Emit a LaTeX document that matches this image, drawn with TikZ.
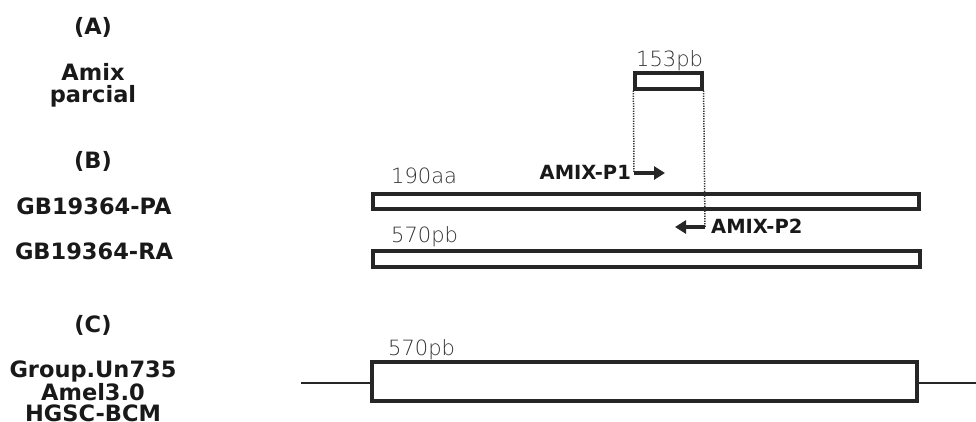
\documentclass[tikz,border=0pt]{standalone}
\usepackage{fontspec}
\setmainfont{DejaVu Sans}
\newfontfamily\lightfont{DejaVu Sans ExtraLight}
\usetikzlibrary{arrows.meta}
\begin{document}
\begin{tikzpicture}[x=1pt,y=-1pt,
  lab/.style={font=\fontsize{22.5}{21.5}\selectfont\bfseries, align=center, inner sep=0pt, text=black!90},
  size/.style={font=\fontsize{21}{21}\selectfont\lightfont, anchor=base west, inner sep=0pt, text=black!80},
  prim/.style={font=\fontsize{19.5}{19.5}\selectfont\bfseries, inner sep=0pt, text=black!90},
  bar/.style={draw=black!85, line width=3.2pt, fill=white},
  dots/.style={draw=black!80, line width=1.5pt, dash pattern=on 1.2pt off 1.3pt},
  parrow/.style={draw=black!85, line width=3.2pt, -{Triangle[length=11pt,width=13pt]}},
  flank/.style={draw=black!85, line width=2.8pt}]
\useasboundingbox (0,0) rectangle (976,421);
% left labels
\node[lab] (lA) at (93,27) {(A)};
\node[lab, anchor=base] (lAmix) at (93,102) {Amix\\parcial};
\node[lab] (lB) at (93,161) {(B)};
\node[lab] (lPA) at (94,206) {GB19364-PA};
\node[lab] (lRA) at (94,251) {GB19364-RA};
\node[lab] (lC) at (93,325) {(C)};
\node[lab, anchor=base] (lG) at (93,421.5) {Group.Un735\\Amel3.0\\HGSC-BCM};
% (A) small box
\node[bar, minimum width=67pt, minimum height=16pt, inner sep=0pt] (amix) at (668.5,81) {};
\node[size] (s153) at (636,66) {153pb};
% (B) bars
\node[bar, minimum width=546pt, minimum height=15pt, inner sep=0pt] (pa) at (646,201.5) {};
\node[bar, minimum width=547pt, minimum height=16pt, inner sep=0pt] (ra) at (646.5,259) {};
\node[size] (s190) at (391,183) {190aa};
\node[size] (s570a) at (391,242) {570pb};
% primers
\coordinate (p1s) at (634,173);
\coordinate (p1e) at (665,173);
\coordinate (p2s) at (705,227);
\coordinate (p2e) at (675,227);
\draw[dots] (amix.south west) -- (p1s);
\draw[dots] (amix.south east) -- (p2s);
\draw[parrow] (p1s) -- (p1e);
\draw[parrow] (p2s) -- (p2e);
\node[prim, anchor=east] (P1) at (631,172) {AMIX-P1};
\node[prim, anchor=west] (P2) at (711,226) {AMIX-P2};
% (C)
\node[bar, minimum width=545pt, minimum height=39pt, inner sep=0pt] (gc) at (644.5,381.5) {};
\coordinate (fl) at (301,383);
\coordinate (fr) at (976,383);
\draw[flank] (fl) -- (fl -| gc.west);
\draw[flank] (fr -| gc.east) -- (fr);
\node[size] (s570c) at (388,355) {570pb};
\end{tikzpicture}
\end{document}
